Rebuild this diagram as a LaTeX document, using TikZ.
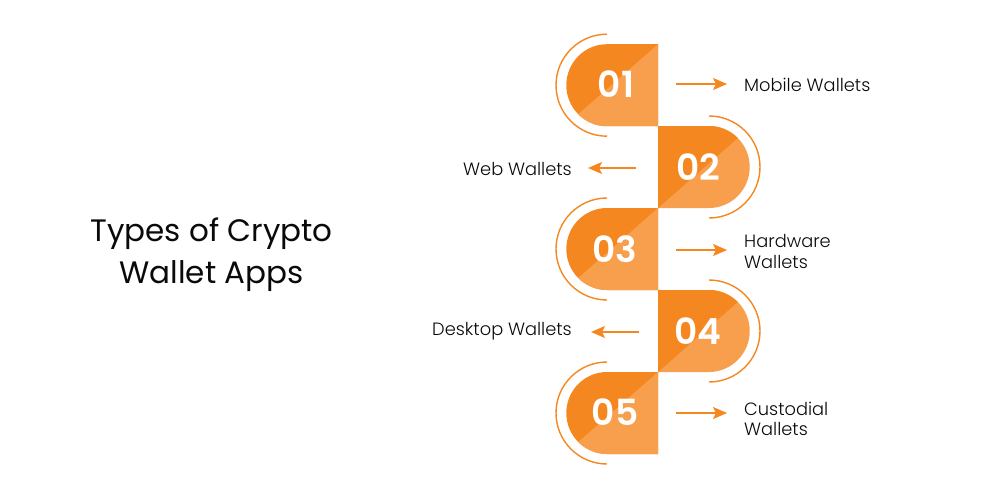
\documentclass[tikz,border=0pt]{standalone}
\usepackage{fontspec}
\setmainfont{Poppins Light}
\newfontfamily\numfont{Poppins SemiBold}
\newfontfamily\titlefont{Poppins}
\usetikzlibrary{arrows.meta}
\definecolor{dark}{HTML}{F58720}
\definecolor{light}{HTML}{F89F4E}
\definecolor{ink}{HTML}{0A0A0A}
\tikzset{x=1pt,y=-1pt,
 num/.style={text=white,font=\fontsize{36}{36}\numfont,inner sep=0pt},
 lab/.style={text=ink,font=\fontsize{17.8}{20.5}\selectfont,inner sep=0pt,align=left},
 title/.style={text=ink,font=\fontsize{31}{42}\titlefont,inner sep=0pt,align=center},
 arr/.style={draw=dark,fill=dark,line width=1.7pt,-{Stealth[length=14pt,width=12pt,inset=3pt]}},
 ring/.style={draw=dark,line width=1.4pt}}
\newcommand{\leftblock}[1]{%
 \fill[dark] (658,#1-41) -- (607,#1-41) arc[start angle=90,end angle=270,x radius=40.7,y radius=-41] -- (658,#1+41) -- cycle;
 \fill[light] (658,#1-41) -- (658,#1+41) -- (607,#1+41) arc[start angle=270,end angle=225,x radius=40.7,y radius=-41] -- cycle;
 \draw[ring] (607,#1-51) arc[start angle=90,end angle=270,x radius=51,y radius=-51];
}
\newcommand{\rightblock}[1]{%
 \fill[light] (658,#1+41) -- (709,#1+41) arc[start angle=270,end angle=450,x radius=40.7,y radius=-41] -- (658,#1-41) -- cycle;
 \fill[dark] (658,#1+41) -- (658,#1-41) -- (709,#1-41) arc[start angle=90,end angle=45,x radius=40.7,y radius=-41] -- cycle;
 \draw[ring] (709,#1-51) arc[start angle=90,end angle=-90,x radius=51,y radius=-51];
}
\begin{document}
\begin{tikzpicture}
\useasboundingbox (0,0) rectangle (1000,500);
\leftblock{85.2}
\rightblock{167}
\leftblock{249}
\rightblock{331}
\leftblock{413}
\node[num] (n1) at (616,84) {01};
\node[num] (n2) at (698,167) {02};
\node[num] (n3) at (615,249) {03};
\node[num] (n4) at (698,331) {04};
\node[num] (n5) at (615,412.5) {05};
\node[title] (t) at (211.5,255) {Types of Crypto\\Wallet Apps};
\node[lab,anchor=west] (l1) at (744,84.5) {Mobile Wallets};
\node[lab,anchor=east] (l2) at (572,168.5) {Web Wallets};
\node[lab,anchor=west] (l3) at (744,251.5) {Hardware\\Wallets};
\node[lab,anchor=east] (l4) at (572,331.5) {Desktop Wallets};
\node[lab,anchor=west,font=\fontsize{17.8}{20}\selectfont] (l5) at (744,418.5) {Custodial\\Wallets};
\coordinate (a1) at (676,84); \coordinate (b1) at (727,84);
\coordinate (a2) at (636,168); \coordinate (b2) at (588,168);
\coordinate (a3) at (676,250); \coordinate (b3) at (727,250);
\coordinate (a4) at (639,332); \coordinate (b4) at (591,332);
\coordinate (a5) at (676,413); \coordinate (b5) at (727,413);
\draw[arr] (a1) -- (b1);
\draw[arr] (a2) -- (b2);
\draw[arr] (a3) -- (b3);
\draw[arr] (a4) -- (b4);
\draw[arr] (a5) -- (b5);
\end{tikzpicture}
\end{document}
